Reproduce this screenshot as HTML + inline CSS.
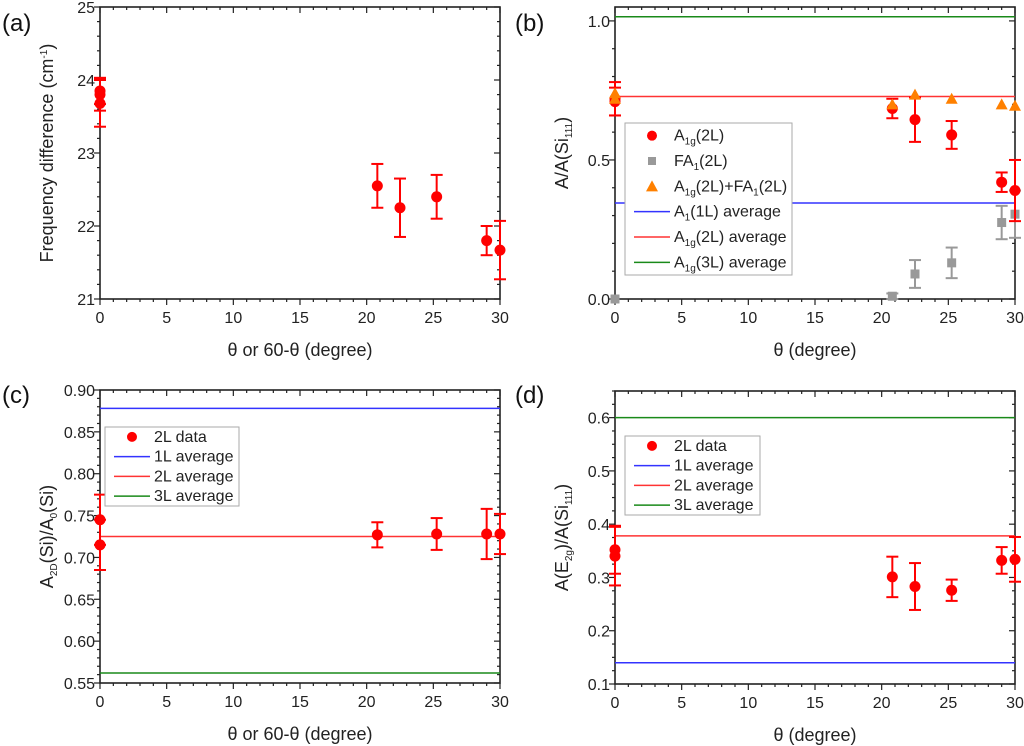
<!DOCTYPE html>
<html><head><meta charset="utf-8">
<style>
body{margin:0;background:#fff;}
svg{display:block;font-family:"Liberation Sans",sans-serif;}
.lab{font-family:"Liberation Sans",sans-serif;font-size:24px;fill:#111}
</style></head>
<body>
<svg id="fig" width="1024" height="746" viewBox="0 0 1024 746" xmlns="http://www.w3.org/2000/svg">
<text class="lab" x="2" y="31">(a)</text>
<text class="lab" x="515" y="31">(b)</text>
<text class="lab" x="2" y="403">(c)</text>
<text class="lab" x="515" y="403">(d)</text>
</svg>
<script>
// ---- data arrays ----
const xTicks = [0,5,10,15,20,25,30];
// panel a
const aX = [0,0,0,20.8,22.5,25.25,29,30];
const aY = [23.85,23.8,23.68,22.55,22.25,22.4,21.8,21.67];
const aErr = [0.18,0.22,0.32,0.3,0.4,0.3,0.2,0.4];
const aYTicks = [21,22,23,24,25];
// panel b
const bA1gX = [0,0,20.8,22.5,25.25,29,30];
const bA1gY = [0.72,0.71,0.685,0.645,0.59,0.42,0.39];
const bA1gErr = [0.06,0.05,0.035,0.08,0.05,0.035,0.11];
const bFAX = [0,20.8,22.5,25.25,29,30];
const bFAY = [0,0.01,0.09,0.13,0.275,0.305];
const bFAErr = [0,0.01,0.05,0.055,0.06,0.085];
const bSumX = [0,0,20.8,22.5,25.25,29,30];
const bSumY = [0.74,0.72,0.70,0.735,0.72,0.70,0.695];
const bAvg = [0.345,0.728,1.015];
const bYTicks = [0,0.5,1.0];
// panel c
const cX = [0,0,20.8,25.25,29,30];
const cY = [0.745,0.715,0.727,0.728,0.728,0.728];
const cErr = [0.03,0.03,0.015,0.019,0.03,0.024];
const cAvg = [0.878,0.725,0.562];
const cYTicks = [0.55,0.60,0.65,0.70,0.75,0.80,0.85,0.90];
// panel d
const dX = [0,0,20.8,22.5,25.25,29,30];
const dY = [0.352,0.34,0.301,0.283,0.276,0.332,0.334];
const dErr = [0.045,0.055,0.038,0.044,0.02,0.025,0.042];
const dAvg = [0.14,0.378,0.6];
const dYTicks = [0.1,0.2,0.3,0.4,0.5,0.6];

const NS="http://www.w3.org/2000/svg";
const svg=document.getElementById('fig');
function mk(tag,attrs,parent){const e=document.createElementNS(NS,tag);for(const k in attrs)e.setAttribute(k,attrs[k]);(parent||svg).appendChild(e);return e;}

function panel(id,L,R,T,B,ymin,ymax,yTicks,yMinorStep,dec,xlabel,ylabelHTML){
  const g=mk('g',{});
  
  
  const sx=v=>L+(v-0)/(30)*(R-L);
  const sy=v=>B-(v-ymin)/(ymax-ymin)*(B-T);
  const box=mk('rect',{x:L,y:T,width:R-L,height:B-T,fill:'none',stroke:'#222','stroke-width':1.6},g);
  
  
  for(let v=0;v<=30;v++){
    const maj=v%5===0; const x=sx(v);
    mk('line',{x1:x,x2:x,y1:B,y2:B+(maj?6:3),stroke:'#222','stroke-width':1.2},g);
    mk('line',{x1:x,x2:x,y1:T,y2:T+(maj?6:3),stroke:'#222','stroke-width':1.2},g);
  }
  xTicks.forEach(v=>{const t=mk('text',{x:sx(v),y:B+24,'text-anchor':'middle','font-size':16,fill:'#222'},g);t.textContent=v;
    });
  for(let v=ymin;v<=ymax+1e-9;v+=yMinorStep){
    const y=sy(v); const maj=yTicks.some(t=>Math.abs(t-v)<1e-6);
    mk('line',{x1:L,x2:L-(maj?6:3),y1:y,y2:y,stroke:'#222','stroke-width':1.2},g);
    mk('line',{x1:R,x2:R-(maj?6:3),y1:y,y2:y,stroke:'#222','stroke-width':1.2},g);
  }
  yTicks.forEach(v=>{const t=mk('text',{x:L-5,y:sy(v)+6,'text-anchor':'end','font-size':16,fill:'#222'},g);t.textContent=v.toFixed(dec);
    });
  const xl=mk('text',{x:(L+R)/2,y:B+57,'text-anchor':'middle','font-size':18,fill:'#222'},g);xl.textContent=xlabel;
  
  const yl=mk('text',{x:0,y:0,'text-anchor':'middle','font-size':18,fill:'#222',transform:`translate(${L-47},${(T+B)/2}) rotate(-90)`},g);
  yl.innerHTML=ylabelHTML;
  
  return {g,sx,sy,L,R};
}
function hline(p,v,color,name){const l=mk('line',{x1:p.L,x2:p.R,y1:p.sy(v),y2:p.sy(v),stroke:color,'stroke-width':1.5},p.g);
  }
function errbar(p,x,y,e,color){
  if(e<=0)return;
  const X=p.sx(x),y1=p.sy(y+e),y2=p.sy(y-e);
  const eb=mk('g',{stroke:color,'stroke-width':2},p.g);
  
  mk('line',{x1:X,x2:X,y1:y1,y2:y2},eb);
  mk('line',{x1:X-6,x2:X+6,y1:y1,y2:y1},eb);
  mk('line',{x1:X-6,x2:X+6,y1:y2,y2:y2},eb);
}
function circ(p,x,y,color){const c=mk('circle',{cx:p.sx(x),cy:p.sy(y),r:5.5,fill:color},p.g);
  }
function sq(p,x,y,color){const c=mk('rect',{x:p.sx(x)-4.5,y:p.sy(y)-4.5,width:9,height:9,fill:color},p.g);
  }
function tri(p,x,y,color){const X=p.sx(x),Y=p.sy(y);const c=mk('polygon',{points:`${X-6},${Y+5} ${X+6},${Y+5} ${X},${Y-6}`,fill:color},p.g);
  }
function legend(p,x,y,w,h,items){
  const lg=mk('g',{},p.g);
  
  mk('rect',{x,y,width:w,height:h,fill:'#fff',stroke:'#aaa','stroke-width':1},lg);
  const step=h/items.length;
  items.forEach((it,i)=>{
    const cy=y+step*(i+0.5);
    const e=mk('g',{},lg);
    
    if(it.t==='c')mk('circle',{cx:x+27,cy,r:5,fill:it.c},e);
    else if(it.t==='s')mk('rect',{x:x+23,y:cy-4,width:8,height:8,fill:it.c},e);
    else if(it.t==='tr')mk('polygon',{points:`${x+21},${cy+5} ${x+33},${cy+5} ${x+27},${cy-6}`,fill:it.c},e);
    else mk('line',{x1:x+9,x2:x+45,y1:cy,y2:cy,stroke:it.c,'stroke-width':1.5},e);
    const t=mk('text',{x:x+49,y:cy+5,'font-size':16,fill:'#222'},e);t.innerHTML=it.label;
  });
}
const sub=(s)=>`<tspan dy="4" font-size="10">${s}</tspan><tspan dy="-4">`;
const pa=panel('a',100,500,7,299,21,25,aYTicks,0.2,0,'θ or 60-θ (degree)','Frequency difference (cm<tspan dy="-6" font-size="10">-1</tspan><tspan dy="6">)</tspan>');
aX.forEach((x,i)=>{errbar(pa,x,aY[i],aErr[i],'#f00');circ(pa,x,aY[i],'#f00');});
const pb=panel('b',615,1015,7,299,0,1.05,bYTicks,0.1,1,'θ (degree)','A/A(Si'+sub('111')+')</tspan>');
hline(pb,bAvg[2],'#1a8a1a','avg-3L');hline(pb,bAvg[1],'#f33','avg-2L');hline(pb,bAvg[0],'#33f','avg-1L');
bFAX.forEach((x,i)=>{errbar(pb,x,bFAY[i],bFAErr[i],'#999');sq(pb,x,bFAY[i],'#999');});
bA1gX.forEach((x,i)=>{errbar(pb,x,bA1gY[i],bA1gErr[i],'#f00');circ(pb,x,bA1gY[i],'#f00');});
bSumX.forEach((x,i)=>tri(pb,x,bSumY[i],'#ff8000'));
legend(pb,625,123,167,152,[
 {t:'c',c:'#f00',label:'A'+sub('1g')+'(2L)</tspan>'},
 {t:'s',c:'#999',label:'FA'+sub('1')+'(2L)</tspan>'},
 {t:'tr',c:'#ff8000',label:'A'+sub('1g')+'(2L)+FA'+sub('1')+'(2L)</tspan></tspan>'},
 {t:'l',c:'#33f',label:'A'+sub('1')+'(1L) average</tspan>'},
 {t:'l',c:'#f33',label:'A'+sub('1g')+'(2L) average</tspan>'},
 {t:'l',c:'#1a8a1a',label:'A'+sub('1g')+'(3L) average</tspan>'}]);
const pc=panel('c',100,500,390,683,0.55,0.90,cYTicks,0.01,2,'θ or 60-θ (degree)','A'+sub('2D')+'(Si)/A'+sub('0')+'(Si)</tspan></tspan>');
hline(pc,cAvg[0],'#33f','avg-1L');hline(pc,cAvg[1],'#f33','avg-2L');hline(pc,cAvg[2],'#1a8a1a','avg-3L');
cX.forEach((x,i)=>{errbar(pc,x,cY[i],cErr[i],'#f00');circ(pc,x,cY[i],'#f00');});
legend(pc,105,427,134,79,[
 {t:'c',c:'#f00',label:'2L data'},{t:'l',c:'#33f',label:'1L average'},
 {t:'l',c:'#f33',label:'2L average'},{t:'l',c:'#1a8a1a',label:'3L average'}]);
const pd=panel('d',615,1015,391,684,0.1,0.65,dYTicks,0.025,1,'θ (degree)','A(E'+sub('2g')+')/A(Si'+sub('111')+')</tspan></tspan>');
hline(pd,dAvg[2],'#1a8a1a','avg-3L');hline(pd,dAvg[1],'#f33','avg-2L');hline(pd,dAvg[0],'#33f','avg-1L');
dX.forEach((x,i)=>{errbar(pd,x,dY[i],dErr[i],'#f00');circ(pd,x,dY[i],'#f00');});
legend(pd,625,436,135,79,[
 {t:'c',c:'#f00',label:'2L data'},{t:'l',c:'#33f',label:'1L average'},
 {t:'l',c:'#f33',label:'2L average'},{t:'l',c:'#1a8a1a',label:'3L average'}]);
</script>
</body></html>
